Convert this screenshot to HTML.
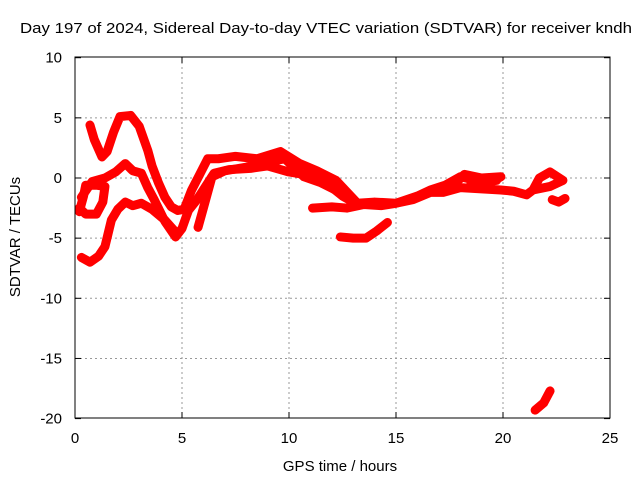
<!DOCTYPE html>
<html><head><meta charset="utf-8"><style>
body{margin:0;background:#fff;}
svg{display:block;font-family:"Liberation Sans",sans-serif;}
</style></head><body>
<svg id="c" width="640" height="480">
<text x="20" y="33" font-size="15" textLength="612" lengthAdjust="spacingAndGlyphs">Day 197 of 2024, Sidereal Day-to-day VTEC variation (SDTVAR) for receiver kndh</text>
<g id="grid"></g>
<g id="axes"></g>
<g id="marks"></g>
<rect x="75" y="57" width="535" height="361" fill="none" stroke="#000"/>
<text x="340" y="471" font-size="15" text-anchor="middle">GPS time / hours</text>
<text transform="translate(20,237) rotate(-90)" font-size="15" text-anchor="middle">SDTVAR / TECUs</text>
</svg>
<script>
const xTicks=[0,5,10,15,20,25];
const yTicks=[10,5,0,-5,-10,-15,-20];
const trace1=[[0.7,4.4],[0.9,3.2],[1.26,1.75],[1.5,2.2],[1.8,3.8],[2.1,5.1],[2.6,5.2],[3.0,4.3],[3.4,2.3],[3.6,1],[3.9,-0.4],[4.2,-1.6],[4.5,-2.4],[4.8,-2.7],[5.1,-2.6],[5.45,-1],[5.8,0.2],[6.2,1.6],[6.7,1.6],[7.5,1.8],[8.5,1.6],[9.6,2.2],[10.5,1.2],[11.3,0.6],[12.2,-0.2],[13.2,-2.1],[14,-2],[15,-2.1],[16,-1.5],[16.6,-1],[17.3,-0.6],[18,0.1],[19,-0.3],[19.7,-0.2]];
const trace2=[[0.3,-1.6],[0.8,-0.3],[1.4,0],[1.9,0.5],[2.35,1.2],[2.7,0.6],[3.1,0.4],[3.4,-0.8],[3.7,-1.8],[4.2,-3.6],[4.7,-4.9],[5.0,-4.2],[5.3,-2.7],[5.7,-1.8],[6.1,-0.7],[6.5,0.4],[7.2,0.7],[8.2,0.8],[9,1],[10,0.5],[11,0.2],[11.8,-0.5],[12.5,-1.5],[13.2,-2.2]];
const trace3=[[0.3,-6.6],[0.7,-7],[1.1,-6.5],[1.4,-5.7],[1.7,-3.5],[2.0,-2.6],[2.35,-2],[2.7,-2.3],[3.1,-2.1],[3.6,-2.6],[4.2,-3.5],[4.7,-4.5]];
const trace4=[[0.2,-2.8],[0.4,-1.5],[0.5,-0.6],[1.0,-0.6],[1.4,-0.7],[1.3,-2],[1.0,-3],[0.5,-3],[0.2,-2.5]];
const trace5=[[5.75,-4.1],[6.0,-2.5],[6.4,0.1],[7,0.6],[8,0.9],[9,1.3],[9.8,1.6],[10.7,0.1],[11.5,-0.4],[12.4,-1.2],[13,-2]];
const trace6=[[11.1,-2.5],[12,-2.4],[12.7,-2.5],[13.5,-2.2],[14.3,-2.3],[15,-2.1],[15.8,-1.8],[16.6,-1.2],[17.2,-1.2],[18,-0.8],[19,-0.9],[19.9,-1],[20.5,-1.1],[21.1,-1.4],[21.4,-1],[21.7,0],[22.2,0.5],[22.8,-0.2],[22.2,-0.7],[21.4,-1]];
const trace7=[[17.8,-0.4],[18.2,0.3],[19,0],[19.9,0.1],[19.5,-0.3],[18.5,-0.5]];
const trace8=[[12.4,-4.9],[13,-5],[13.6,-5],[14.1,-4.4],[14.6,-3.7]];
const trace9=[[22.3,-1.8],[22.6,-2],[22.9,-1.7]];
const trace10=[[21.5,-19.3],[21.9,-18.7],[22.2,-17.7]];
const series=[trace1,trace2,trace3,trace4,trace5,trace6,trace7,trace8,trace9,trace10];
const NS='http://www.w3.org/2000/svg';
const X=h=>75+h*21.4, Y=v=>178-v*12.03;
const grid=document.getElementById('grid'),axes=document.getElementById('axes'),marks=document.getElementById('marks');
function mk(t,a,p){const e=document.createElementNS(NS,t);for(const k in a)e.setAttribute(k,a[k]);p.appendChild(e);return e;}
xTicks.forEach(t=>{const x=X(t);
 if(t>0&&t<25){const g=mk('line',{x1:x,x2:x,y1:57,y2:418,stroke:'#999','stroke-dasharray':'2,3'},grid);
 
 }
 const l=mk('text',{x:x,y:443,'font-size':15,'text-anchor':'middle'},axes);l.textContent=t;
 
 
 mk('line',{x1:x,x2:x,y1:418,y2:412,stroke:'#000'},axes);mk('line',{x1:x,x2:x,y1:57,y2:63,stroke:'#000'},axes);});
yTicks.forEach(t=>{const y=Y(t);
 if(t<10&&t>-20){const g=mk('line',{x1:75,x2:610,y1:y,y2:y,stroke:'#999','stroke-dasharray':'2,3'},grid);
 
 }
 const l=mk('text',{x:62,y:y+5,'font-size':15,'text-anchor':'end'},axes);l.textContent=t;
 
 
 mk('line',{x1:75,x2:81,y1:y,y2:y,stroke:'#000'},axes);mk('line',{x1:610,x2:604,y1:y,y2:y,stroke:'#000'},axes);});
series.forEach((s,i)=>{
 const p=mk('polyline',{points:s.map(d=>X(d[0])+','+Y(d[1])).join(' '),fill:'none',stroke:'#f00','stroke-width':9,'stroke-linejoin':'round','stroke-linecap':'round'},marks);
 
 
});
</script>
</body></html>
